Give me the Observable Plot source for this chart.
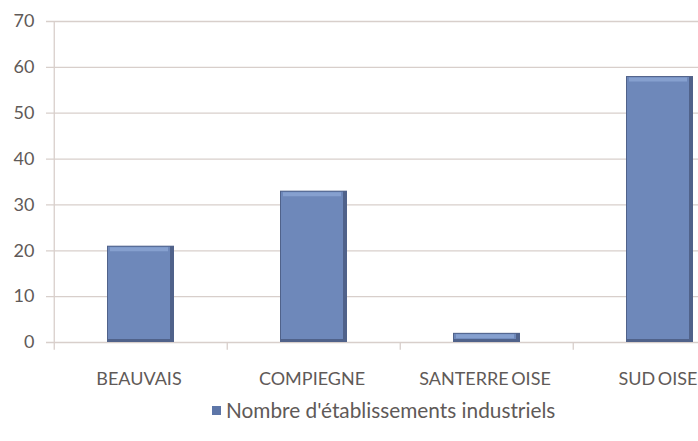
<!DOCTYPE html>
<html>
<head>
<meta charset="utf-8">
<script src="https://cdn.jsdelivr.net/npm/d3@7"></script>
<script src="https://cdn.jsdelivr.net/npm/@observablehq/plot@0.6"></script>
<style>
  html, body { margin: 0; padding: 0; background: #fff; }
  #wrap { width: 698px; height: 441px; overflow: hidden; position: relative; font-family: Lato, "Open Sans", sans-serif; }
  #chart { position: absolute; left: 0; top: 0; width: 747px; }
  #chart svg { max-width: none !important; }
  #chart svg g[aria-label="x-axis tick label"] text { word-spacing: -2px; }
  #legend { position: absolute; left: 212px; top: 398px; font-size: 20.8px; line-height: 24px; color: #5f5a58; white-space: nowrap; display: flex; align-items: center; }
  #legend .sw { display: inline-block; width: 9px; height: 9px; background: #5d76a8; margin-right: 5px; }
</style>
</head>
<body>
<div id="wrap">
  <div id="chart"></div>
  <div id="legend"><span class="sw"></span><span id="legendText"></span></div>
</div>
<script>
const categories = ["BEAUVAIS", "COMPIEGNE", "SANTERRE OISE", "SUD OISE"];
const values = [21, 33, 2, 58];
const yTicks = [0, 10, 20, 30, 40, 50, 60, 70];
const seriesName = "Nombre d'établissements industriels";

const data = categories.map((c, i) => ({cat: c, value: values[i]}));

const W = 747, H = 395, ML = 53, MR = 0;
const step = (W - ML - MR) / categories.length;
const grid = "#d8cfcb";
const textColor = "#5f5a58";

const chart = Plot.plot({
  width: W,
  height: H,
  marginLeft: ML,
  marginRight: MR,
  marginTop: 21,
  marginBottom: 53,
  style: { fontFamily: "Lato, 'Open Sans', sans-serif", color: textColor, background: "white", overflow: "visible", maxWidth: "none" },
  x: { domain: categories, paddingInner: 0.61, paddingOuter: 0.305, label: null },
  y: { domain: [0, 70], label: null },
  marks: [
    Plot.ruleY(yTicks, { stroke: grid, strokeWidth: 1.3, insetLeft: -7 }),
    Plot.ruleX([categories[0]], { dx: -step / 2, y1: -1.7, y2: 70, stroke: grid, strokeWidth: 1.3 }),
    Plot.ruleX(categories.slice(1), { dx: -step / 2, y1: -1.7, y2: 0, stroke: grid, strokeWidth: 1.3 }),
    Plot.barY(data, { x: "cat", y: "value", fill: "#50628a" }),
    Plot.barY(data, { x: "cat", y: "value", fill: "#6e88ba", insetRight: 4, insetLeft: 1, insetBottom: 3, insetTop: 1 }),
    Plot.tickY(data, { x: "cat", y: "value", dy: 3, stroke: "#86a0cf", strokeWidth: 4, insetLeft: 3, insetRight: 6 }),
    Plot.axisY({ ticks: yTicks, tickSize: 0, tickPadding: 19, fontSize: 18, fill: textColor, label: null }),
    Plot.axisX({ tickSize: 0, tickPadding: 30, fontSize: 18, fill: textColor, label: null, dx: -2 })
  ]
});
document.getElementById("chart").appendChild(chart);
document.getElementById("legendText").textContent = seriesName;
</script>
</body>
</html>
